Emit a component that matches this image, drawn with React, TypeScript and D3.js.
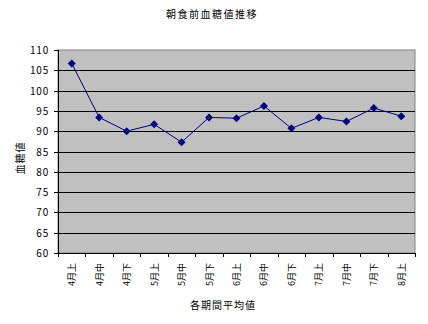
import React from "react";
import * as d3 from "d3";

const categories = ["4月上","4月中","4月下","5月上","5月中","5月下","6月上","6月中","6月下","7月上","7月中","7月下","8月上"];
const values = [106.7, 93.4, 90.0, 91.7, 87.3, 93.4, 93.2, 96.2, 90.7, 93.4, 92.4, 95.7, 93.7];
const yTicks = [60, 65, 70, 75, 80, 85, 90, 95, 100, 105, 110];
const title = "朝食前血糖値推移";
const xTitle = "各期間平均値";
const yTitle = "血糖値";

const W = 428, H = 324;
const L = 58, R = 415, T = 50, B = 253;
const font = "'Noto Sans CJK JP', 'DejaVu Sans', sans-serif";

export default function App() {
  const x = d3.scaleBand<string>().domain(categories).range([L, R]);
  const y = d3.scaleLinear().domain([60, 110]).range([B, T]);
  const line = d3.line<number>()
    .x((_, i) => (x(categories[i]) as number) + x.bandwidth() / 2)
    .y(d => y(d));
  const diamond = "M0,-4L4,0L0,4L-4,0Z";
  const boundaries = categories.map(c => x(c) as number).concat([R]);

  return (
    <svg width={W} height={H} style={{ position: "absolute", left: 0, top: 0, background: "#fff" }}>
      <rect x={0} y={0} width={W} height={H} fill="#fff" />
      <text x={212} y={18} textAnchor="middle" fontSize={10} fontFamily={font} letterSpacing={1.5}>{title}</text>
      <rect x={L} y={T} width={R - L} height={B - T} fill="#C0C0C0" stroke="#808080" strokeWidth={1} />
      {yTicks.map(t => (
        <g key={t}>
          {t !== 60 && t !== 110 && (
            <line x1={L} x2={R} y1={Math.round(y(t)) + 0.5} y2={Math.round(y(t)) + 0.5} stroke="#000" strokeWidth={1} />
          )}
          <line x1={L - 4} x2={L} y1={Math.round(y(t)) + 0.5} y2={Math.round(y(t)) + 0.5} stroke="#000" />
          <text x={L - 9} y={y(t) + 4} textAnchor="end" fontSize={10} fontFamily={font} letterSpacing={0.8}>{t}</text>
        </g>
      ))}
      <line x1={L + 0.5} x2={L + 0.5} y1={T} y2={B} stroke="#000" />
      <line x1={L} x2={R} y1={B + 0.5} y2={B + 0.5} stroke="#000" />
      {boundaries.map((bx, i) => (
        <line key={i} x1={Math.round(bx) + 0.5} x2={Math.round(bx) + 0.5} y1={B} y2={B + 4} stroke="#000" />
      ))}
      <path d={line(values) as string} fill="none" stroke="#000080" strokeWidth={1} />
      {values.map((v, i) => (
        <path key={i} d={diamond} transform={`translate(${(x(categories[i]) as number) + x.bandwidth() / 2},${y(v)})`} fill="#000080" />
      ))}
      {categories.map(c => {
        const cx = (x(c) as number) + x.bandwidth() / 2;
        return (
          <text key={c} transform={`translate(${cx + 3.5},263) rotate(-90)`} textAnchor="end" fontSize={9} fontFamily={font}>{c}</text>
        );
      })}
      <text x={223} y={309} textAnchor="middle" fontSize={10} fontFamily={font} letterSpacing={1}>{xTitle}</text>
      <text transform={`translate(24,158) rotate(-90)`} textAnchor="middle" fontSize={10} fontFamily={font} letterSpacing={1}>{yTitle}</text>
    </svg>
  );
}
